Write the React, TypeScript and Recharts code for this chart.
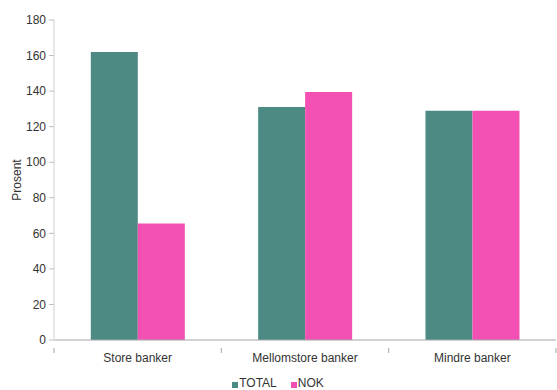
import React from 'react';
import { BarChart, Bar, XAxis, YAxis, Legend } from 'recharts';

const categories = ['Store banker', 'Mellomstore banker', 'Mindre banker'];
const totalValues = [162, 131, 129];
const nokValues = [65.5, 139.5, 129];
const yTicks = [0, 20, 40, 60, 80, 100, 120, 140, 160, 180];
const seriesNames = ['TOTAL', 'NOK'];
const seriesColors = ['#4e8a84', '#f250b2'];

const data = categories.map((name, i) => ({
  name,
  TOTAL: totalValues[i],
  NOK: nokValues[i],
}));

const FONT = '"Liberation Sans", Arial, sans-serif';

const CategoryTick = (props: any) => {
  const { x, y, payload, width, index } = props;
  const half = (width || 0) / categories.length / 2;
  return (
    <g>
      <line x1={x - half} x2={x - half} y1={y} y2={y + 5} stroke="#a6a6a6" />
      {index === categories.length - 1 && (
        <line x1={x + half} x2={x + half} y1={y} y2={y + 5} stroke="#a6a6a6" />
      )}
      <text x={x} y={y + 14} textAnchor="middle" fontSize={12} fill="#333" fontFamily={FONT}>
        {payload.value}
      </text>
    </g>
  );
};

const LegendContent = () => (
  <div style={{ display: 'flex', justifyContent: 'center', gap: 14, fontSize: 12, fontFamily: FONT, color: '#333', lineHeight: '14px' }}>
    {seriesNames.map((s, i) => (
      <span key={s} style={{ display: 'inline-flex', alignItems: 'center' }}>
        <span style={{ width: 6, height: 6, background: seriesColors[i], display: 'inline-block', marginRight: 1, marginTop: 3 }} />
        {s}
      </span>
    ))}
  </div>
);

export default function App() {
  return (
    <div style={{ width: 557, height: 390, position: 'absolute', left: 0, top: 0, background: '#fff' }}>
      <style>{'body{margin:0}'}</style>
      <BarChart
        width={557}
        height={390}
        data={data}
        margin={{ top: 20, right: 1, bottom: 0, left: 0 }}
        barCategoryGap="22%"
        barGap={0}
      >
        <XAxis
          dataKey="name"
          tick={<CategoryTick />}
          tickLine={false}
          axisLine={{ stroke: '#a6a6a6' }}
          height={36}
          interval={0}
        />
        <YAxis
          domain={[0, 180]}
          ticks={yTicks}
          width={54}
          tickSize={5}
          tickMargin={3}
          tickLine={{ stroke: '#bfbfbf' }}
          axisLine={{ stroke: '#d0d0d0' }}
          tick={{ fontSize: 12, fill: '#333', fontFamily: FONT }}
          label={{
            value: 'Prosent',
            angle: -90,
            position: 'insideLeft',
            offset: 17,
            style: { fontSize: 12, fill: '#333', fontFamily: FONT, textAnchor: 'middle' },
          }}
        />
        <Legend verticalAlign="bottom" content={<LegendContent />} />
        <Bar dataKey="TOTAL" fill={seriesColors[0]} isAnimationActive={false} />
        <Bar dataKey="NOK" fill={seriesColors[1]} isAnimationActive={false} />
      </BarChart>
    </div>
  );
}
